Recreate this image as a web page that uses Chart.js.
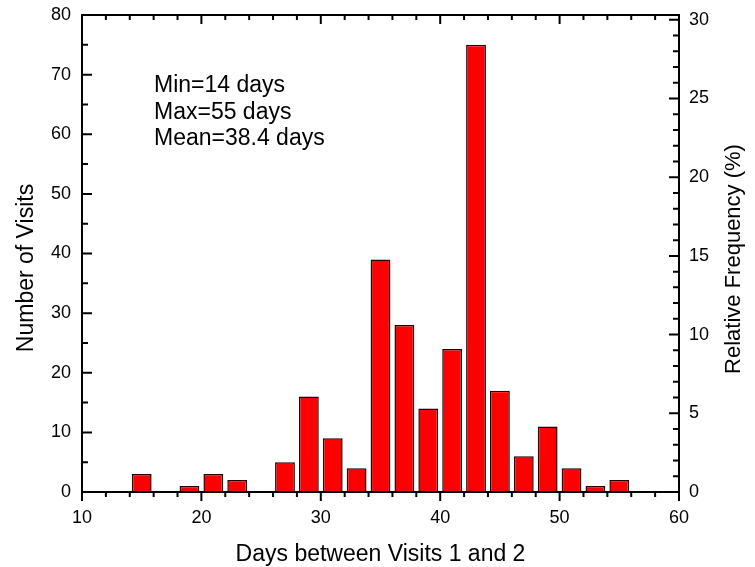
<!DOCTYPE html>
<html lang="en">
<head>
    <meta charset="UTF-8">
    <title>Days between Visits 1 and 2</title>
    <script src="https://cdn.jsdelivr.net/npm/chart.js"></script>
    <style>
        body { margin: 0; background: #fff; }
    </style>
</head>
<body>
    <canvas id="chart" width="755" height="567"></canvas>
    <script>
        // histogram bins (2 days wide) and the number of visits in each
        const binCenters = [15, 17, 19, 21, 23, 25, 27, 29, 31, 33, 35, 37, 39, 41, 43, 45, 47, 49, 51, 53, 55];
        const visitCounts = [3, 0, 1, 3, 2, 0, 5, 16, 9, 4, 39, 28, 14, 24, 75, 17, 6, 11, 4, 1, 2];

        const xTickValues = [10, 20, 30, 40, 50, 60];
        const countTickValues = [0, 10, 20, 30, 40, 50, 60, 70, 80];
        const percentTickValues = [0, 5, 10, 15, 20, 25, 30];

        const summaryLines = ['Min=14 days', 'Max=55 days', 'Mean=38.4 days'];

        const totalVisits = visitCounts.reduce((a, b) => a + b, 0);
        const countMax = 80;
        const percentMax = countMax * 100 / totalVisits;

        const FONT = "'Liberation Sans', Arial, sans-serif";
        Chart.defaults.font.family = FONT;
        Chart.defaults.color = '#000';

        // box round the plot, ticks, titles and the summary text
        const frame = {
            id: 'frame',
            afterDatasetsDraw(chart) {
                const { ctx, chartArea: a, scales } = chart;
                const big = 9, small = 5;
                ctx.save();
                ctx.strokeStyle = '#000';
                ctx.lineWidth = 2;
                ctx.strokeRect(a.left, a.top, a.right - a.left, a.bottom - a.top);
                ctx.beginPath();
                for (let v = 10; v <= 60; v += 2) {
                    const px = scales.x.getPixelForValue(v);
                    const len = v % 10 === 0 ? big : small;
                    ctx.moveTo(px, a.bottom); ctx.lineTo(px, a.bottom + len);
                    ctx.moveTo(px, a.top); ctx.lineTo(px, a.top + len);
                }
                for (let v = 0; v <= 80; v += 5) {
                    const py = scales.y.getPixelForValue(v);
                    const len = v % 10 === 0 ? big + 1 : small + 1;
                    ctx.moveTo(a.left, py); ctx.lineTo(a.left + len, py);
                }
                for (let v = 0; v <= 30; v += 1) {
                    const py = scales.y1.getPixelForValue(v);
                    const len = v % 5 === 0 ? big + 1 : small + 1;
                    ctx.moveTo(a.right, py); ctx.lineTo(a.right - len, py);
                }
                ctx.stroke();

                ctx.fillStyle = '#000';
                ctx.font = '23px ' + FONT;
                ctx.textAlign = 'left';
                ctx.textBaseline = 'alphabetic';
                summaryLines.forEach((t, i) => ctx.fillText(t, 154, 92 + i * 26.6));

                ctx.textAlign = 'center';
                ctx.fillText('Days between Visits 1 and 2', (a.left + a.right) / 2, 561);

                ctx.save();
                ctx.translate(33, 268);
                ctx.rotate(-Math.PI / 2);
                ctx.fillText('Number of Visits', 0, 0);
                ctx.restore();

                ctx.font = '22px ' + FONT;
                ctx.save();
                ctx.translate(740, 259);
                ctx.rotate(-Math.PI / 2);
                ctx.fillText('Relative Frequency (%)', 0, 0);
                ctx.restore();
                ctx.restore();
            }
        };

        function noPad(s) {
            s.paddingTop = 0; s.paddingBottom = 0;
            s.paddingLeft = 0; s.paddingRight = 0;
        }

        const ctx = document.getElementById('chart').getContext('2d');
        new Chart(ctx, {
            type: 'bar',
            data: {
                datasets: [{
                    label: 'Number of Visits',
                    data: binCenters.map((x, i) => ({ x, y: visitCounts[i] })),
                    backgroundColor: '#ff0000',
                    borderColor: '#200000',
                    borderWidth: 1.5,
                    borderSkipped: 'start',
                    barPercentage: 0.83,
                    categoryPercentage: 1,
                }]
            },
            options: {
                responsive: false,
                animation: false,
                layout: { padding: { top: 15, left: 0, right: 0, bottom: 0 } },
                plugins: {
                    legend: { display: false },
                    tooltip: { enabled: false }
                },
                scales: {
                    x: {
                        type: 'linear',
                        min: 10,
                        max: 60,
                        offset: false,
                        grid: { display: false, drawTicks: false },
                        border: { display: false },
                        ticks: { padding: 15, font: { size: 18 }, color: '#000' },
                        afterBuildTicks: s => { s.ticks = xTickValues.map(v => ({ value: v })); },
                        afterFit: s => { s.height = 75; noPad(s); }
                    },
                    y: {
                        position: 'left',
                        min: 0,
                        max: countMax,
                        grid: { display: false, drawTicks: false },
                        border: { display: false },
                        ticks: { padding: 11, font: { size: 18 }, color: '#000' },
                        afterBuildTicks: s => { s.ticks = countTickValues.map(v => ({ value: v })); },
                        afterFit: s => { s.width = 82; noPad(s); }
                    },
                    y1: {
                        position: 'right',
                        min: 0,
                        max: percentMax,
                        grid: { display: false, drawTicks: false },
                        border: { display: false },
                        ticks: { padding: 10, font: { size: 18 }, color: '#000' },
                        afterBuildTicks: s => { s.ticks = percentTickValues.map(v => ({ value: v })); },
                        afterFit: s => { s.width = 76; noPad(s); }
                    }
                }
            },
            plugins: [frame]
        });
    </script>
</body>
</html>
